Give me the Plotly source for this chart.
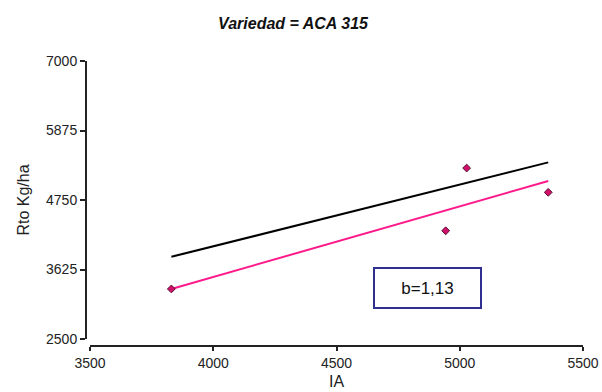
import plotly.graph_objects as go

# Observed data (IA vs Rto Kg/ha)
ia_obs = [3830, 4943, 5028, 5359]
rto_obs = [3310, 4252, 5267, 4874]

# Fitted regression line (pink)
fit_x = [3830, 4943, 5028, 5359]
fit_y = [3310, 4582, 4679, 5057]

# Reference 1:1 line (black)
ref_x = [3830, 5359]
ref_y = [3830, 5359]

x_ticks = [3500, 4000, 4500, 5000, 5500]
y_ticks = [2500, 3625, 4750, 5875, 7000]

W, H = 602, 392
ml = 86
mt = 61
mr = W - 583
mb = H - 346
pw = W - ml - mr
ph = H - mt - mb
x_dom0 = (90 - 86) / pw
y_dom0 = (346 - 339) / ph

fig = go.Figure()
fig.add_trace(go.Scatter(x=ref_x, y=ref_y, mode="lines",
                         line=dict(color="#000000", width=2), showlegend=False))
fig.add_trace(go.Scatter(x=fit_x, y=fit_y, mode="lines",
                         line=dict(color="#ff1a8c", width=2), showlegend=False))
fig.add_trace(go.Scatter(x=ia_obs, y=rto_obs, mode="markers",
                         marker=dict(symbol="diamond", size=6, color="#d0106a",
                                     line=dict(color="#5a1030", width=1)),
                         showlegend=False))

fig.add_annotation(x=4871, y=3325, xref="x", yref="y", text="b=1,13",
                   showarrow=False, font=dict(family="Liberation Sans, Arial", size=17, color="#111"),
                   bordercolor="#2e2f8f", borderwidth=2, borderpad=1,
                   width=103, height=36, bgcolor="white")

fig.update_layout(
    width=W, height=H,
    margin=dict(l=ml, r=mr, t=mt, b=mb, autoexpand=False),
    plot_bgcolor="white", paper_bgcolor="white",
    font=dict(family="Liberation Sans, Arial", color="#222"),
    hovermode=False,
    title=dict(text="<b><i>Variedad = ACA 315</i></b>", x=293 / W, xanchor="center",
               xref="container", y=1 - 23 / H, yanchor="middle", automargin=False,
               font=dict(size=16, color="#111")),
    xaxis=dict(range=[3500, 5500], domain=[x_dom0, 1], anchor="free", position=0,
               automargin=False,
               tickvals=x_ticks, ticktext=[str(v) for v in x_ticks],
               showline=True, linecolor="#222", linewidth=2, ticks="outside",
               ticklen=4, tickwidth=1.5, tickcolor="#222", showgrid=False, zeroline=False,
               tickfont=dict(size=14, color="#222"),
               title=dict(text="IA", font=dict(size=16, color="#222"), standoff=5)),
    yaxis=dict(range=[2500, 7000], domain=[y_dom0, 1], anchor="free", position=0,
               automargin=False,
               tickvals=y_ticks, ticktext=[str(v) for v in y_ticks],
               showline=True, linecolor="#222", linewidth=2, ticks="outside",
               ticklen=5, tickwidth=1.5, tickcolor="#222", showgrid=False, zeroline=False,
               tickfont=dict(size=14, color="#222"),
               title=dict(text="Rto Kg/ha", font=dict(size=16, color="#222"), standoff=11)),
)

fig.write_html("out.html",
               config={"displayModeBar": False},
               post_script="document.body.style.margin='0';"
                           "document.documentElement.style.overflow='hidden';"
                           "document.body.style.overflow='hidden';")
